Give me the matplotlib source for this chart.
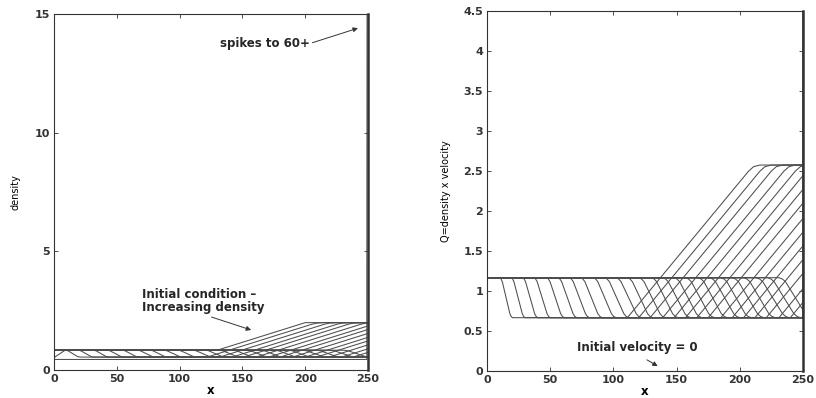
import numpy as np
import matplotlib
matplotlib.use("Agg")
import matplotlib.pyplot as plt

plt.rcParams['font.family'] = ['DejaVu Sans']

# ---- density panel (left) ----
init_x = [1, 130, 200, 250]
init_rho = [0.84, 0.84, 2.0, 2.0]

rho_hi, rho_lo, rho_top = 0.84, 0.55, 2.0
rho_slope = 0.0166
rho_drop_x = [9, 19, 31, 42, 54, 66, 76, 87, 98, 110, 120, 131, 142, 153, 164, 175, 186, 197, 208, 219, 230]
rho_drop_w = [12, 13, 13, 14, 14, 15, 15, 16, 16, 17, 17, 18, 18, 19, 19, 20, 20, 21, 21, 22, 22]
rho_ramp_x = [122, 132, 142, 151, 161, 171, 180, 190, 200, 209, 219, 229, 238, 248]

final_x = [1, 249, 250]
final_rho = [0.45, 0.45, 60]

# ---- flux panel (right) ----
q_hi, q_lo, q_top = 1.166, 0.666, 2.575
q_slope = 0.0191
q_drop_x = [10, 19, 28, 37, 47, 56, 65, 74, 84, 93, 102, 111, 120, 130, 139, 148, 157, 167, 176, 185, 194, 203, 213, 222, 231]
q_drop_w = [10, 11, 12, 13, 14, 15, 16, 17, 18, 19, 20, 20, 21, 21, 22, 22, 23, 23, 24, 24, 25, 25, 26, 26, 26]
q_ramp_x = [111, 120, 129, 139, 148, 157, 166, 175, 185, 194, 203, 212, 221, 231, 240, 249]

q0_x = [0, 250]
q0 = [0, 0]

# shape of one smooth drop (fraction of width, fraction of fall)
s_u = [0, 0.1, 0.2, 0.35, 0.5, 0.65, 0.8, 0.9, 1.0]
s_f = [0, 0.03, 0.1, 0.3, 0.5, 0.7, 0.9, 0.97, 1.0]

LC = '0.3'
LW = 0.75


def profile(hi, lo, top, slope, dx, dw, rx):
    xs = [1] + [dx + u * dw for u in s_u]
    ys = [hi] + [hi - f * (hi - lo) for f in s_f]
    if rx is None:
        xs.append(260)
        ys.append(lo)
    else:
        xt = rx + (top - lo) / slope
        xs += [rx, xt - 4, xt, xt + 5, 260]
        ys += [lo, top - 4 * slope, top - 0.02, top, top]
    return xs, ys


fig = plt.figure(figsize=(8.16, 3.98), dpi=100)
ax1 = fig.add_axes([0.066, 0.070, 0.385, 0.895])
ax2 = fig.add_axes([0.597, 0.068, 0.387, 0.904])

ax1.plot(init_x, init_rho, color=LC, lw=LW)
for i in range(len(rho_drop_x)):
    rx = rho_ramp_x[i] if i < len(rho_ramp_x) else None
    xs, ys = profile(rho_hi, rho_lo, rho_top, rho_slope, rho_drop_x[i], rho_drop_w[i], rx)
    if i == 0:
        xs[0], ys[0] = 1, 0.56
    ax1.plot(xs, ys, color=LC, lw=LW)
ax1.plot(final_x, final_rho, color=LC, lw=LW)

ax2.plot(q0_x, q0, color=LC, lw=LW)
for i in range(len(q_drop_x)):
    rx = q_ramp_x[i] if i < len(q_ramp_x) else None
    xs, ys = profile(q_hi, q_lo, q_top, q_slope, q_drop_x[i], q_drop_w[i], rx)
    ax2.plot(xs, ys, color=LC, lw=LW)
ax2.plot([250, 250], [0.666, 4.5], color=LC, lw=1.2)

ax1.set_xlim(0, 250)
ax1.set_ylim(0, 15)
ax1.set_yticks([0, 5, 10, 15])
ax2.set_xlim(0, 250)
ax2.set_ylim(0, 4.5)
ax2.set_yticks([0, 0.5, 1, 1.5, 2, 2.5, 3, 3.5, 4, 4.5])
ax2.set_yticklabels(['0', '0.5', '1', '1.5', '2', '2.5', '3', '3.5', '4', '4.5'])

for ax in (ax1, ax2):
    ax.set_xticks([0, 50, 100, 150, 200, 250])
    ax.tick_params(direction='in', top=True, right=True, length=3, width=0.6,
                   labelsize=8, colors='0.2', pad=3)
    for lab in ax.get_xticklabels() + ax.get_yticklabels():
        lab.set_fontweight('bold')
    for sp in ax.spines.values():
        sp.set_linewidth(0.8)
        sp.set_color('0.2')
    ax.spines['right'].set_linewidth(1.8)
    ax.set_xlabel('x', fontsize=8.5, fontweight='bold', labelpad=0)

ax1.set_ylabel('density', fontsize=7, fontfamily='Liberation Sans Narrow', labelpad=10)
ax2.set_ylabel('Q=density x velocity', fontsize=7, fontfamily='Liberation Sans Narrow', labelpad=9)

ax1.annotate('spikes to 60+', xy=(242, 14.4), xytext=(132, 13.75),
             fontsize=8.5, fontweight='bold', va='center', color='0.15',
             arrowprops=dict(arrowstyle='-|>', color='0.2', lw=0.7,
                             shrinkA=0, shrinkB=0, mutation_scale=7,
                             relpos=(1, 0.5)))
ax1.annotate('Initial condition \u2013\nIncreasing density', xy=(157, 1.69), xytext=(70, 2.9),
             fontsize=8.5, fontweight='bold', va='center', ha='left', color='0.15',
             linespacing=1.0,
             arrowprops=dict(arrowstyle='-|>', color='0.2', lw=0.7,
                             shrinkA=0, shrinkB=0, mutation_scale=7,
                             relpos=(0.5, 0)))
ax2.annotate('Initial velocity = 0', xy=(135, 0.06), xytext=(119, 0.29),
             fontsize=8.5, fontweight='bold', va='center', ha='center', color='0.15',
             arrowprops=dict(arrowstyle='-|>', color='0.2', lw=0.7,
                             shrinkA=4, shrinkB=0, mutation_scale=7,
                             relpos=(0.5, 0)))

fig.savefig('out.png', dpi=100)
